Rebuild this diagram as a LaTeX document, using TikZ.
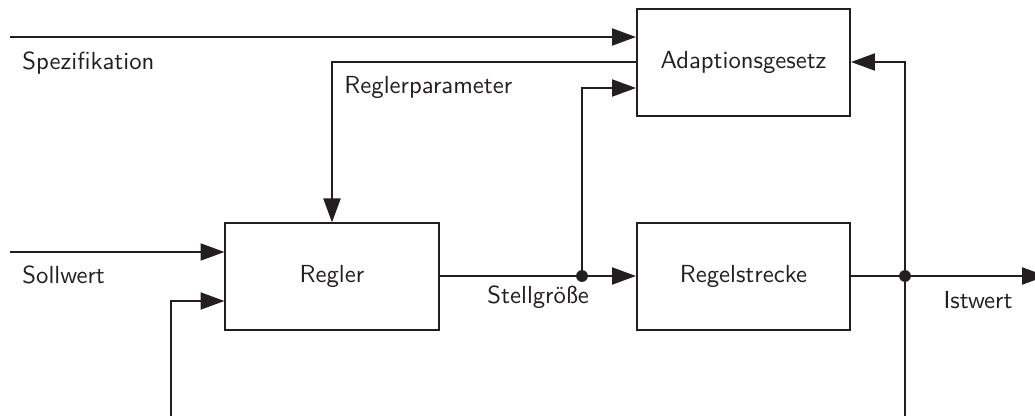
\documentclass[tikz,border=0pt]{standalone}
\usetikzlibrary{arrows.meta}
\definecolor{ink}{HTML}{231F20}
\begin{document}
\begin{tikzpicture}[x=0.405pt,y=-0.405pt,
  every node/.style={font=\sffamily\fontsize{10pt}{12pt}\selectfont, text=ink},
  block/.style={draw=ink, line width=0.8pt, minimum width=86.3pt, minimum height=43pt, inner sep=0pt},
  sig/.style={draw=ink, line width=0.8pt},
  arr/.style={sig, -{Triangle[length=9.7pt,width=6.9pt]}},
  dot/.style={circle, fill=ink, inner sep=0pt, minimum size=4.8pt},
  lbl/.style={anchor=base west, inner sep=0pt}]
  \clip (0,0) rectangle (1035,416);

  % blocks
  \node[block] (adapt) at (743.5,62.5) {Adaptionsgesetz};
  \node[block] (regler) at (332,276.5) {Regler};
  \node[block] (strecke) at (743.5,276.5) {Regelstrecke};

  % branch points and free ends
  \node[dot] (ju) at (582,276) {};
  \node[dot] (jy) at (905,276) {};
  \coordinate (spec) at (10,37);
  \coordinate (soll) at (10,252);
  \coordinate (out) at (1046,276);
  \coordinate (fbl) at (171,422);
  \coordinate (fbr) at (905,422);

  % signals
  \draw[arr] (spec) -- (spec -| adapt.west);
  \draw[arr] (adapt.west |- 0,62) -| (regler.north);
  \draw[arr] (soll) -- (soll -| regler.west);
  \draw[sig] (regler.east |- ju) -- (ju.center);
  \draw[arr] (ju.center) -- (ju -| strecke.west);
  \draw[arr] (ju.center) |- (adapt.west |- 0,88);
  \draw[sig] (strecke.east |- jy) -- (jy.center);
  \draw[arr] (jy.center) -- (out);
  \draw[arr] (fbr) |- (adapt.east |- 0,62);
  \draw[arr] (fbl) |- (regler.west |- 0,301);

  % labels
  \node[lbl] at (22,69) {Spezifikation};
  \node[lbl] at (344,93) {Reglerparameter};
  \node[lbl] at (22,283) {Sollwert};
  \node[lbl] at (487,303) {Stellgröße};
  \node[lbl] at (943,308) {Istwert};
\end{tikzpicture}
\end{document}
